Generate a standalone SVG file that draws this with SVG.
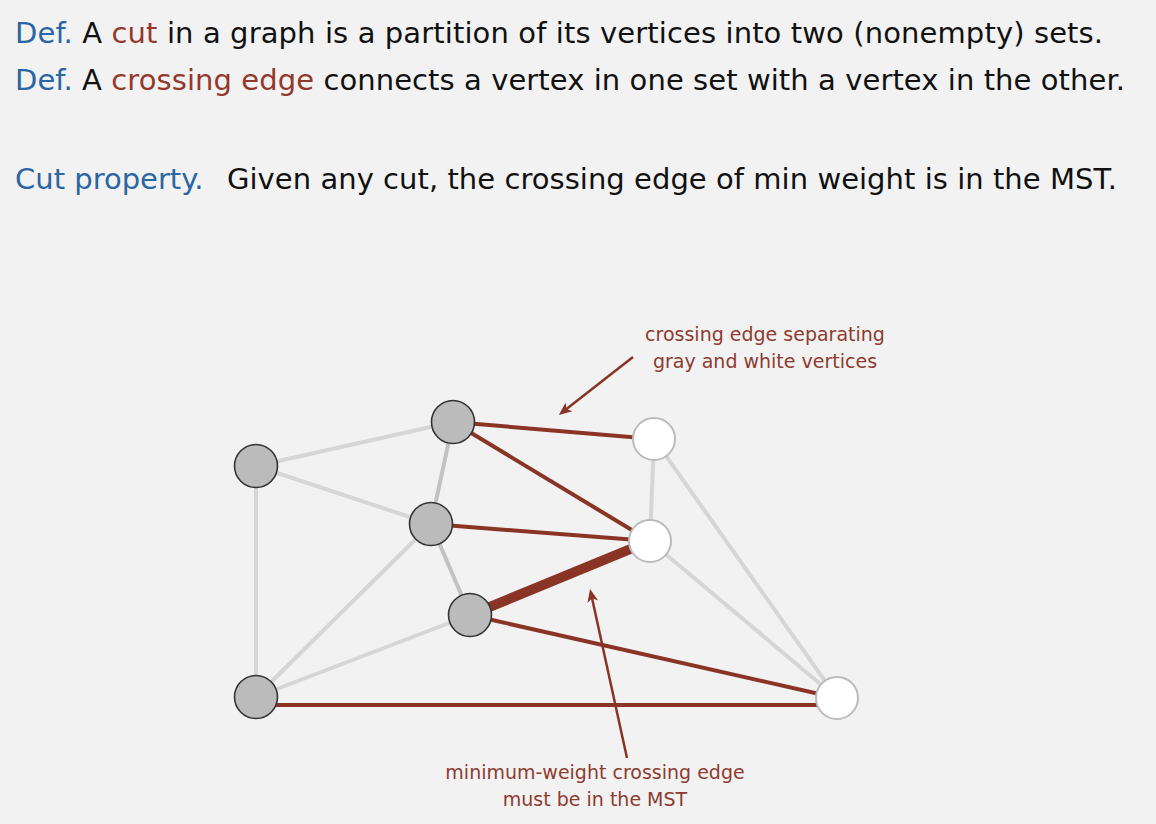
<svg xmlns="http://www.w3.org/2000/svg" width="1156" height="824" viewBox="0 0 1156 824">
<style>
text{font-family:"DejaVu Sans","Liberation Sans",sans-serif}
.big{font-size:29px;fill:#111}
.blue{fill:#2a66a2}
.red{fill:#93392c}
.ann{font-size:19px;fill:#8e3b30;text-anchor:middle}
.g{stroke:#d6d6d6;stroke-width:4;fill:none}
.g2{stroke:#c2c2c2;stroke-width:4;fill:none}
.r{stroke:#8a3426;stroke-width:4;fill:none}
.rt{stroke:#8a3426;stroke-width:10;fill:none}
.arr{stroke:#8a3426;stroke-width:2.5;fill:none;marker-end:url(#ah)}
.gn{fill:#bbbbbb;stroke:#333;stroke-width:1.6}
.wn{fill:#ffffff;stroke:#bbbbbb;stroke-width:2}
</style>
<defs>
<marker id="ah" viewBox="-14 -6 15 12" markerWidth="15" markerHeight="12" refX="-4" refY="0" orient="auto" markerUnits="userSpaceOnUse">
<path d="M0,0 L-13,-5.5 L-9.5,0 L-13,5.5 Z" fill="#8a3426"/>
</marker>
</defs>
<rect width="1156" height="824" fill="#f2f2f2"/>
<g id="texts">
<text class="big" x="15" y="43" textLength="1088" lengthAdjust="spacing"><tspan class="blue">Def.</tspan> A <tspan class="red">cut</tspan> in a graph is a partition of its vertices into two (nonempty) sets.</text>
<text class="big" x="15" y="90" textLength="1110" lengthAdjust="spacing"><tspan class="blue">Def.</tspan> A <tspan class="red">crossing edge</tspan> connects a vertex in one set with a vertex in the other.</text>
<text class="big blue" x="15" y="189">Cut property.</text>
<text class="big" x="227" y="189" textLength="890" lengthAdjust="spacing">Given any cut, the crossing edge of min weight is in the MST.</text>
</g>
<g id="connectors">
<line class="g" x1="256" y1="466" x2="453" y2="422"/>
<line class="g" x1="256" y1="466" x2="431" y2="524"/>
<line class="g" x1="256" y1="466" x2="256" y2="697"/>
<line class="g" x1="431" y1="524" x2="256" y2="697"/>
<line class="g" x1="470" y1="615" x2="256" y2="697"/>
<line class="g2" x1="453" y1="422" x2="431" y2="524"/>
<line class="g2" x1="431" y1="524" x2="470" y2="615"/>
<line class="g" x1="654" y1="439" x2="650" y2="541"/>
<line class="g" x1="654" y1="439" x2="837" y2="698"/>
<line class="g" x1="650" y1="541" x2="837" y2="698"/>
<line class="r" x1="453" y1="422" x2="654" y2="439"/>
<line class="r" x1="453" y1="422" x2="650" y2="541"/>
<line class="r" x1="431" y1="524" x2="650" y2="541"/>
<line class="r" x1="470" y1="615" x2="837" y2="698"/>
<line class="r" x1="256" y1="705" x2="837" y2="705"/>
<line class="rt" x1="470" y1="615" x2="650" y2="541"/>
<line class="arr" x1="633" y1="357" x2="562" y2="412.5"/>
<line class="arr" x1="627" y1="758" x2="590.9" y2="593"/>
</g>
<g id="node-a"><circle class="gn" cx="256" cy="466" r="21.5"/></g>
<g id="node-b"><circle class="gn" cx="453" cy="422" r="21.5"/></g>
<g id="node-c"><circle class="gn" cx="431" cy="524" r="21.5"/></g>
<g id="node-d"><circle class="gn" cx="470" cy="615" r="21.5"/></g>
<g id="node-e"><circle class="gn" cx="256" cy="697" r="21.5"/></g>
<g id="node-f"><circle class="wn" cx="654" cy="439" r="21"/></g>
<g id="node-g"><circle class="wn" cx="650" cy="541" r="21"/></g>
<g id="node-h"><circle class="wn" cx="837" cy="698" r="21"/></g>
<g id="labels">
<text class="ann" x="765" y="341">crossing edge separating</text>
<text class="ann" x="765" y="368">gray and white vertices</text>
<text class="ann" x="595" y="779">minimum-weight crossing edge</text>
<text class="ann" x="595" y="806">must be in the MST</text>
</g>
</svg>
